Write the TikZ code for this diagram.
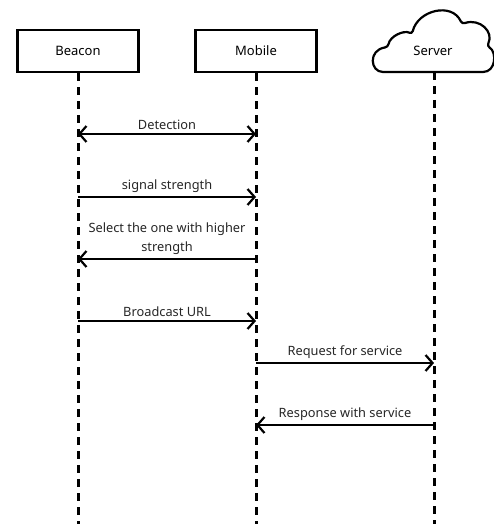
\documentclass[tikz,border=0pt]{standalone}
\usepackage{fontspec}
\setmainfont{Noto Sans}
\usetikzlibrary{arrows.meta}
\begin{document}
\begin{tikzpicture}[x=1pt,y=-1pt,
  barb/.tip={Straight Barb[length=7pt,width=16pt,line width=2.2pt]},
  actor/.style={draw,line width=2.2pt,minimum width=121pt,minimum height=42pt,inner sep=0pt,font=\fontsize{13}{15}\selectfont},
  life/.style={line width=3pt,dash pattern=on 8pt off 6pt},
  msg/.style={line width=2.2pt,-barb},
  lbl/.style={font=\fontsize{12.8}{19}\selectfont,align=center,text=black!85},
]
\useasboundingbox (0,0) rectangle (494,524);
\node[actor] (beacon) at (78,51) {Beacon};
\node[actor] (mobile) at (256,51) {Mobile};
% cloud
\draw[line width=2.2pt,fill=white,rounded corners=3pt]
  (386,72) .. controls (370,72) and (368,50) .. (388,47)
  .. controls (390,36) and (404,30) .. (412,34)
  .. controls (418,10) and (452,2) .. (462,24)
  .. controls (480,18) and (494,32) .. (487,46)
  .. controls (497,52) and (496,72) .. (480,72) -- cycle;
\node[inner sep=0pt,font=\fontsize{13}{15}\selectfont] (server) at (433,51) {Server};
\coordinate (sTop) at (434,72);
\coordinate (bEnd) at (78,524);
\coordinate (mEnd) at (256,524);
\coordinate (sEnd) at (434,524);
\draw[life] (beacon.south) -- (bEnd);
\draw[life] (mobile.south) -- (mEnd);
\draw[life] (sTop) -- (sEnd);
% messages
\coordinate (b1) at (78,134); \coordinate (m1) at (256,134);
\draw[msg,barb-barb] (b1) -- node[lbl,above=0pt] {Detection} (m1);
\coordinate (b2) at (78,197); \coordinate (m2) at (256,197);
\draw[msg] (b2) -- node[lbl,above=0pt] {signal strength} (m2);
\coordinate (b3) at (78,259); \coordinate (m3) at (256,259);
\draw[msg] (m3) -- node[lbl,above=0pt] {Select the one with higher\\strength} (b3);
\coordinate (b4) at (78,321); \coordinate (m4) at (256,321);
\draw[msg] (b4) -- node[lbl,above=0pt] {Broadcast URL} (m4);
\coordinate (m5) at (256,363); \coordinate (s5) at (434,363);
\draw[msg] (m5) -- node[lbl,above=0pt] {Request for service} (s5);
\coordinate (m6) at (256,425); \coordinate (s6) at (434,425);
\draw[msg] (s6) -- node[lbl,above=0pt] {Response with service} (m6);
\end{tikzpicture}
\end{document}
